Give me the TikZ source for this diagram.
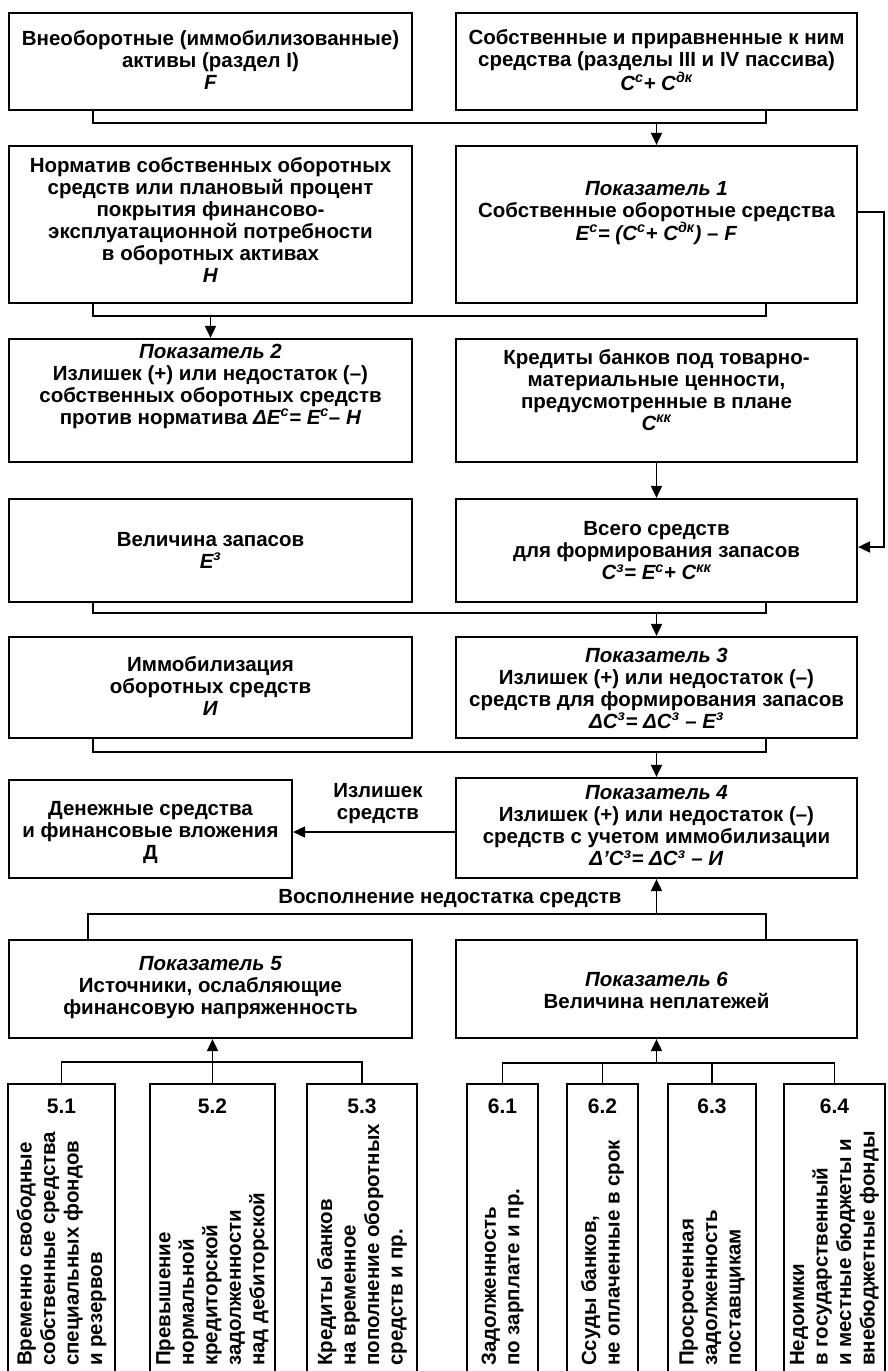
\documentclass[tikz,border=0pt]{standalone}
\usepackage{fontspec}
\setmainfont{Liberation Sans}
\usetikzlibrary{arrows.meta,fit}

\newcommand\supx[1]{\textsuperscript{#1}}

\tikzset{
  box/.style={draw, line width=2.2pt, inner sep=0pt},
  txt/.style={align=center, inner sep=0pt, font=\bfseries\fontsize{20.5}{22}\selectfont},
  vtxt/.style={align=left, rotate=90, anchor=west, inner sep=0pt, font=\bfseries\fontsize{20.5}{23.5}\selectfont},
  num/.style={inner sep=0pt, font=\bfseries\fontsize{21}{24}\selectfont},
  wire/.style={line width=1.8pt},
  flow/.style={wire, -{Triangle[length=12pt,width=11pt]}},
}

\begin{document}
\begin{tikzpicture}[x=1pt,y=-1pt]
\useasboundingbox (0,0) rectangle (887,1371);
\clip (0,0) rectangle (887,1371);

% ---------- main boxes ----------
\node[box, fit={(9,13) (412,110)}]   (a1) {};
\node[box, fit={(456,13) (857,110)}] (b1) {};
\node[box, fit={(9,146) (412,303)}]  (a2) {};
\node[box, fit={(456,146) (857,303)}] (b2) {};
\node[box, fit={(9,339) (412,462)}]  (a3) {};
\node[box, fit={(456,339) (857,462)}] (b3) {};
\node[box, fit={(9,499) (412,602)}]  (a4) {};
\node[box, fit={(456,499) (857,602)}] (b4) {};
\node[box, fit={(9,637) (412,738)}]  (a5) {};
\node[box, fit={(456,637) (857,738)}] (b5) {};
\node[box, fit={(9,780) (292,878)}]  (a6) {};
\node[box, fit={(456,778) (857,878)}] (b6) {};
\node[box, fit={(9,940) (412,1038)}] (a7) {};
\node[box, fit={(456,940) (857,1038)}] (b7) {};

% ---------- texts of the main boxes ----------
\node[txt] (a1t) at (210.5,60) {Внеоборотные (иммобилизованные)\\активы (раздел I)\\\textit{F}};
\node[txt] (b1t) at (656.5,60) {Собственные и приравненные к ним\\средства (разделы III и IV пассива)\\\textit{C\supx{с}+ C\supx{дк}}};
\node[txt] (a2t) at (210.5,220) {Норматив собственных оборотных\\средств или плановый процент\\покрытия финансово-\\эксплуатационной потребности\\в оборотных активах\\\textit{H}};
\node[txt] (b2t) at (656.5,213) {\textit{Показатель 1}\\Собственные оборотные средства\\\textit{E\supx{с}= (C\supx{с}+ C\supx{дк}) -- F}};
\node[txt] (a3t) at (210.5,386) {\textit{Показатель 2}\\Излишек (+) или недостаток (--)\\собственных оборотных средств\\против норматива \textit{ΔE\supx{с}= E\supx{с}-- H}};
\node[txt] (b3t) at (656.5,390) {Кредиты банков под товарно-\\материальные ценности,\\предусмотренные в плане\\\textit{C\supx{кк}}};
\node[txt] (a4t) at (210.5,550) {Величина запасов\\\textit{E\supx{з}}};
\node[txt] (b4t) at (656.5,551) {Всего средств\\для формирования запасов\\\textit{C\supx{з}= E\supx{с}+ C\supx{кк}}};
\node[txt] (a5t) at (210.5,686) {Иммобилизация\\оборотных средств\\\textit{И}};
\node[txt] (b5t) at (656.5,688) {\textit{Показатель 3}\\Излишек (+) или недостаток (--)\\средств для формирования запасов\\\textit{ΔC\supx{з}= ΔC\supx{з} -- E\supx{з}}};
\node[txt] (a6t) at (150.5,832) {Денежные средства\\и финансовые вложения\\Д};
\node[txt] (b6t) at (656.5,826) {\textit{Показатель 4}\\Излишек (+) или недостаток (--)\\средств с учетом иммобилизации\\\textit{Δ'C\supx{з}= ΔC\supx{з} -- И}};
\node[txt] (a7t) at (210.5,988) {\textit{Показатель 5}\\Источники, ослабляющие\\финансовую напряженность};
\node[txt] (b7t) at (656.5,990) {\textit{Показатель 6}\\Величина неплатежей};

% ---------- junction points ----------
\coordinate (l1) at (93,123);   \coordinate (r1) at (766,123);  \coordinate (m1) at (656.5,123);
\coordinate (l2) at (93,316);   \coordinate (r2) at (766,316);  \coordinate (m2) at (210.5,316);
\coordinate (l4) at (93,613);   \coordinate (r4) at (766,613);  \coordinate (m4) at (656.5,613);
\coordinate (l5) at (93,752);   \coordinate (r5) at (766,752);  \coordinate (m5) at (656.5,752);
\coordinate (l6) at (88,914);   \coordinate (r6) at (766,914);  \coordinate (m6) at (656.5,914);
\coordinate (fa) at (884,212);  \coordinate (fb) at (884,547);
\coordinate (m7) at (212.5,1062);
\coordinate (m8) at (656.5,1063);

% ---------- connectors ----------
\draw[wire] (a1.south -| l1) -- (l1) -- (r1) -- (b1.south -| r1);
\draw[flow] (m1) -- (b2.north -| m1);
\draw[wire] (a2.south -| l2) -- (l2) -- (r2) -- (b2.south -| r2);
\draw[flow] (m2) -- (a3.north -| m2);
\draw[flow] (b3) -- (b4);
\draw[flow] (b2.east |- fa) -- (fa) -- (fb) -- (b4.east |- fb);
\draw[wire] (a4.south -| l4) -- (l4) -- (r4) -- (b4.south -| r4);
\draw[flow] (m4) -- (b5.north -| m4);
\draw[wire] (a5.south -| l5) -- (l5) -- (r5) -- (b5.south -| r5);
\draw[flow] (m5) -- (b6.north -| m5);
\coordinate (s6) at (0,832);
\draw[flow] (b6.west |- s6) -- (a6.east |- s6);
\node[txt] (surplus) at (378,804) {Излишек\\средств};
\draw[wire] (a7.north -| l6) -- (l6) -- (r6) -- (b7.north -| r6);
\draw[flow] (m6) -- (b6.south -| m6);
\node[txt] (refill) at (450,899) {Восполнение недостатка средств};

% ---------- detail columns ----------
\node[box, fit={(8,1084) (115,1400)}]    (c51) {};
\node[box, fit={(150,1084) (275,1400)}]  (c52) {};
\node[box, fit={(307,1084) (417,1400)}]  (c53) {};
\node[box, fit={(467,1084) (538,1400)}]  (c61) {};
\node[box, fit={(567,1084) (638,1400)}]  (c62) {};
\node[box, fit={(668,1084) (756,1400)}]  (c63) {};
\node[box, fit={(784,1084) (885,1400)}]  (c64) {};

\foreach \c/\n in {c51/5.1, c52/5.2, c53/5.3, c61/6.1, c62/6.2, c63/6.3, c64/6.4}
  \node[num] (\c n) at (\c.north |- 0,1106) {\n};

\node[vtxt] (c51t) at (61.5,1366)  {Временно свободные\\собственные средства\\специальных фондов\\и резервов};
\node[vtxt] (c52t) at (212.5,1366) {Превышение\\нормальной\\кредиторской\\задолженности\\над дебиторской};
\node[vtxt] (c53t) at (362,1366)   {Кредиты банков\\на временное\\пополнение оборотных\\средств и пр.};
\node[vtxt] (c61t) at (502.5,1366) {Задолженность\\по зарплате и пр.};
\node[vtxt] (c62t) at (602.5,1366) {Ссуды банков,\\не оплаченные в срок};
\node[vtxt] (c63t) at (712,1366)   {Просроченная\\задолженность\\поставщикам};
\node[vtxt] (c64t) at (834.5,1366) {Недоимки\\в государственный\\и местные бюджеты и\\внебюджетные фонды};

% ---------- bottom brackets ----------
\draw[wire] (c51.north) -- (c51.north |- m7) -- (c53.north |- m7) -- (c53.north);
\draw[wire] (c52.north) -- (c52.north |- m7);
\draw[flow] (m7) -- (a7.south -| m7);
\draw[wire] (c61.north) -- (c61.north |- m8) -- (c64.north |- m8) -- (c64.north);
\draw[wire] (c62.north) -- (c62.north |- m8);
\draw[wire] (c63.north) -- (c63.north |- m8);
\draw[flow] (m8) -- (b7.south -| m8);
\end{tikzpicture}
\end{document}
